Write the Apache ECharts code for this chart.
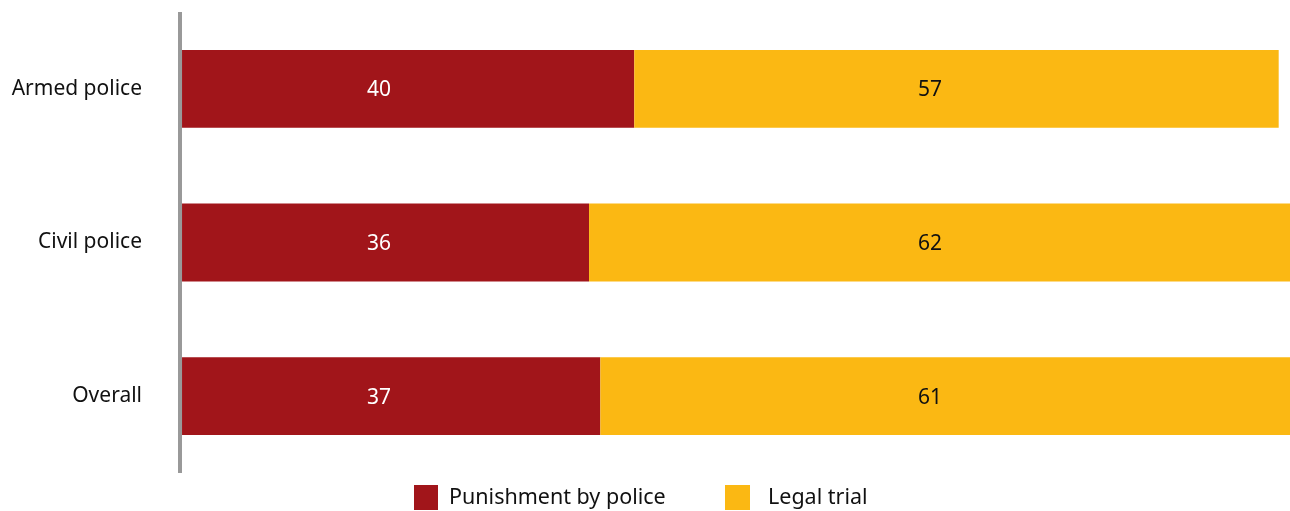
<!DOCTYPE html>
<html>
<head>
<meta charset="utf-8">
<script src="https://cdn.jsdelivr.net/npm/echarts@6/dist/echarts.min.js"></script>
<style>
html,body{margin:0;padding:0;background:#fff;}
#chart{width:1290px;height:511px;}
</style>
</head>
<body>
<div id="chart"></div>
<script>
const categories = ['Armed police', 'Civil police', 'Overall'];
const punishment = [40, 36, 37];
const legalTrial = [57, 62, 61];
const seriesNames = ['Punishment by police', 'Legal trial'];

// layout: where value labels sit horizontally (pixel x), as in the reference
const LABEL_X = [379, 930];

const FONT = '"Noto Sans", sans-serif';
const chart = echarts.init(document.getElementById('chart'));
const baseOption = {
  animation: false,
  grid: { left: 180, right: 0, top: 12, bottom: 38, containLabel: false },
  xAxis: { type: 'value', min: -0.18, max: 98, show: false },
  yAxis: {
    type: 'category',
    data: categories,
    inverse: true,
    axisLine: { show: true, onZero: false, lineStyle: { color: '#999999', width: 4, cap: 'butt' } },
    axisTick: { show: false },
    axisLabel: { color: '#111', fontSize: 21, fontFamily: FONT, margin: 38, padding: [2, 0, 0, 0] }
  },
  legend: [
    {
      top: 485, left: 414, padding: 0,
      itemWidth: 24, itemHeight: 25, icon: 'rect',
      textStyle: { fontSize: 21.5, fontFamily: FONT, color: '#111', padding: [0, 0, 0, 6] },
      data: [seriesNames[0]]
    },
    {
      top: 485, left: 725, padding: 0,
      itemWidth: 25, itemHeight: 25, icon: 'rect',
      textStyle: { fontSize: 21.5, fontFamily: FONT, color: '#111', padding: [0, 0, 0, 13] },
      data: [seriesNames[1]]
    }
  ],
  series: [
    {
      name: seriesNames[0], type: 'bar', stack: 'a', barWidth: '50.6%',
      data: punishment,
      itemStyle: { color: '#A1151A' },
      label: { show: true, position: 'inside', color: '#fff', fontSize: 21, fontFamily: FONT }
    },
    {
      name: seriesNames[1], type: 'bar', stack: 'a', barWidth: '50.6%',
      data: legalTrial,
      itemStyle: { color: '#FBB813' },
      label: { show: true, position: 'inside', color: '#111', fontSize: 21, fontFamily: FONT }
    }
  ]
};
chart.setOption(baseOption);

// shift labels to the reference's fixed horizontal positions
function shiftedData(values, starts, labelX) {
  return values.map((v, i) => {
    const x0 = chart.convertToPixel({ xAxisIndex: 0 }, starts[i]);
    const x1 = chart.convertToPixel({ xAxisIndex: 0 }, starts[i] + v);
    return { value: v, label: { offset: [labelX - (x0 + x1) / 2, 1.5] } };
  });
}
chart.setOption({
  series: [
    { data: shiftedData(punishment, punishment.map(() => 0), LABEL_X[0]) },
    { data: shiftedData(legalTrial, punishment, LABEL_X[1]) }
  ]
});
</script>
</body>
</html>
